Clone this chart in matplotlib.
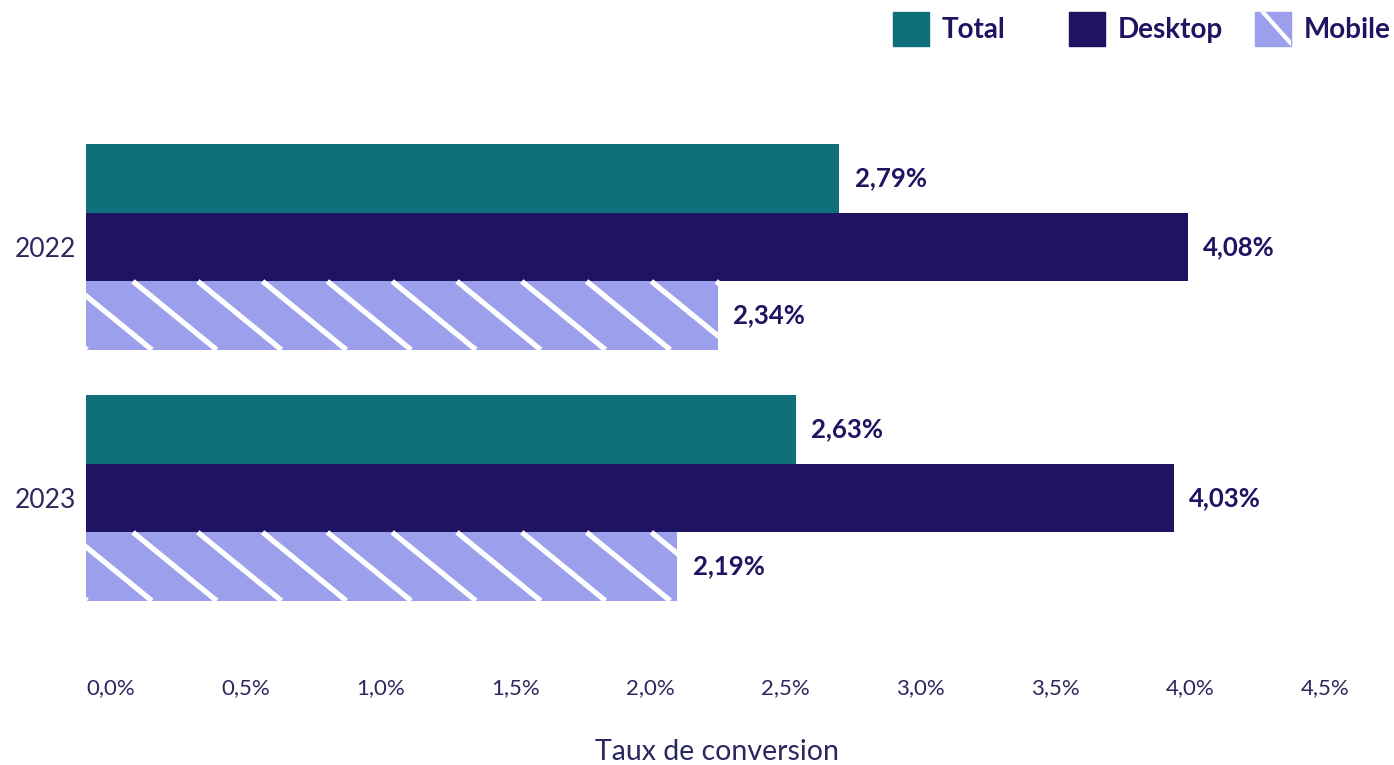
import matplotlib.pyplot as plt
from matplotlib.patches import Rectangle
from matplotlib.lines import Line2D
import numpy as np

plt.rcParams['font.family'] = ['Lato', 'DejaVu Sans']

# conversion rates (%) per year and device
years = ['2022', '2023']
series = ['Total', 'Desktop', 'Mobile']
total = [2.79, 2.63]
desktop = [4.08, 4.03]
mobile = [2.34, 2.19]
xticks = [0.0, 0.5, 1.0, 1.5, 2.0, 2.5, 3.0, 3.5, 4.0, 4.5]
xtick_labels = ['0,0%', '0,5%', '1,0%', '1,5%', '2,0%', '2,5%', '3,0%', '3,5%', '4,0%', '4,5%']

teal = '#0F6F7B'
navy = '#1E1462'
lilac = '#9CA0EC'
text_col = '#2A285E'

W, H = 1394, 765
fig = plt.figure(figsize=(W / 100, H / 100), dpi=100)
ax = fig.add_axes([86 / W, 1 - 648.6 / H, 1215 / W, 552.2 / H])

ypos = np.arange(len(years))
h = 0.273
bars_total = ax.barh(ypos - h, total, height=h, color=teal)
bars_desk = ax.barh(ypos, desktop, height=h, color=navy)
bars_mob = ax.barh(ypos + h, mobile, height=h, color=lilac)

ax.set_xlim(0, 4.5)
ax.set_ylim(1.6, -0.6)

# white diagonal stripes on the mobile bars
step = 0.24
run = 0.31
for bar in bars_mob:
    y0, hh, w = bar.get_y(), bar.get_height(), bar.get_width()
    for xs in np.arange(0.174 - 2 * step, w, step):
        ln = Line2D([xs, xs + run], [y0, y0 + hh], color='white', lw=3.8,
                    solid_capstyle='butt')
        ln.set_clip_path(bar)
        ax.add_line(ln)

# value labels
for bars, vals in [(bars_total, total), (bars_desk, desktop), (bars_mob, mobile)]:
    for bar, v in zip(bars, vals):
        ax.annotate(f'{v:.2f}%'.replace('.', ','),
                    xy=(v, bar.get_y() + bar.get_height() / 2),
                    xytext=(11, 0), textcoords='offset points',
                    ha='left', va='center', fontsize=18.5, fontweight='bold',
                    color=navy)

for s in ax.spines.values():
    s.set_visible(False)

ax.set_yticks(ypos, years)
ax.tick_params(axis='y', length=0, pad=7, labelsize=19, labelcolor=text_col)
ax.set_xticks(xticks, xtick_labels)
ax.tick_params(axis='x', length=0, pad=21, labelsize=16, labelcolor=text_col)
for lbl in ax.get_xticklabels():
    lbl.set_ha('left')

fig.text(717 / W, 1 - 752 / H, 'Taux de conversion', ha='center', va='center',
         fontsize=20.5, color=text_col)

# legend drawn by hand at the top right
legend_x = [893, 1069, 1255]
legend_colors = [teal, navy, lilac]
for x, c, name in zip(legend_x, legend_colors, series):
    box = Rectangle((x / W, 1 - 46 / H), 36 / W, 34 / H,
                    transform=fig.transFigure, color=c)
    fig.add_artist(box)
    if name == 'Mobile':
        ln = Line2D([(x + 6) / W, (x + 40) / W], [1 - 10 / H, 1 - 48 / H],
                    transform=fig.transFigure, color='white', lw=3)
        ln.set_clip_path(box)
        fig.add_artist(ln)
    fig.text((x + 49) / W, 1 - 30 / H, name, ha='left', va='center',
             fontsize=20, fontweight='bold', color=navy)

fig.savefig('out.png', dpi=100)
